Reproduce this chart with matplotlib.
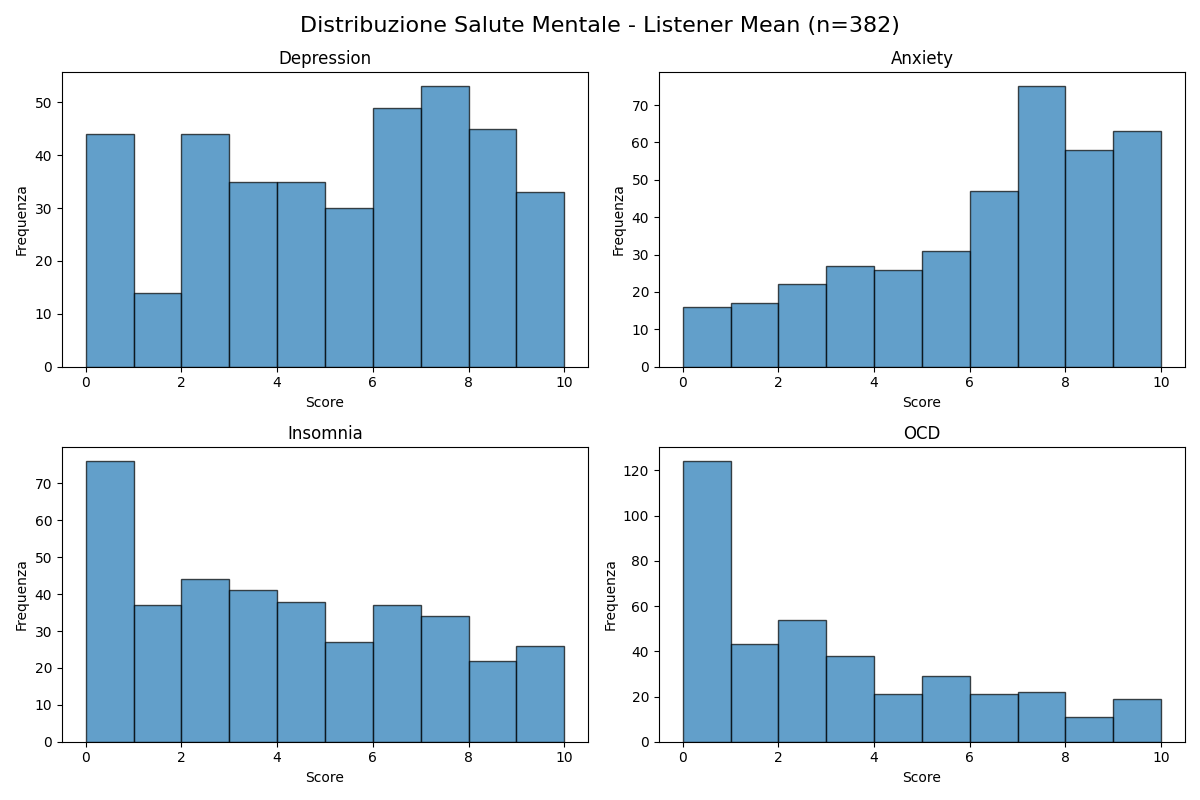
import matplotlib
matplotlib.use("Agg")
import matplotlib.pyplot as plt
import numpy as np

# conteggi, bin di larghezza 1 tra 0 e 10
bin_edges = np.arange(0, 11)
depression = [44, 14, 44, 35, 35, 30, 49, 53, 45, 33]
anxiety = [16, 17, 22, 27, 26, 31, 47, 75, 58, 63]
insomnia = [76, 37, 44, 41, 38, 27, 37, 34, 22, 26]
ocd = [124, 43, 54, 38, 21, 29, 21, 22, 11, 19]
titles = ["Depression", "Anxiety", "Insomnia", "OCD"]

fig, axes = plt.subplots(2, 2, figsize=(12, 8), dpi=100)
fig.suptitle("Distribuzione Salute Mentale - Listener Mean (n=382)", fontsize=16)

for ax, counts, title in zip(axes.flat, [depression, anxiety, insomnia, ocd], titles):
    ax.hist(bin_edges[:-1], bins=bin_edges, weights=counts,
            color="C0", alpha=0.7, edgecolor="black")
    ax.set_title(title)
    ax.set_xlabel("Score")
    ax.set_ylabel("Frequenza")

plt.tight_layout()
plt.savefig("out.png")
